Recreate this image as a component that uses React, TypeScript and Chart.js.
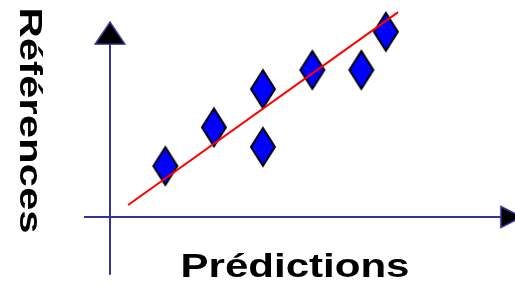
import React, { useEffect, useRef } from "react";
import { Chart, registerables } from "chart.js";

Chart.register(...registerables);

// Data (unit = one grid step; origin at the axes crossing)
const predictions = [1.13, 2.12, 3.12, 3.12, 4.13, 5.13, 5.63];
const references = [1.04, 1.83, 2.61, 1.43, 3.0, 3.0, 3.78];
const fitX = [0.37, 5.88];
const fitY = [0.245, 4.18];
const xAxisRange = [-0.53, 8.18];
const yAxisRange = [-1.18, 3.75];
const xLabel = "Prédictions";
const yLabel = "Références";

function makeDiamond(): HTMLCanvasElement {
  const c = document.createElement("canvas");
  c.width = 30;
  c.height = 42;
  const g = c.getContext("2d")!;
  g.beginPath();
  g.moveTo(15, 2);
  g.lineTo(27, 21);
  g.lineTo(15, 40);
  g.lineTo(3, 21);
  g.closePath();
  g.fillStyle = "#0000FF";
  g.fill();
  g.lineWidth = 2;
  g.lineJoin = "miter";
  g.strokeStyle = "#000000";
  g.stroke();
  return c;
}

function makeUpArrow(): HTMLCanvasElement {
  const c = document.createElement("canvas");
  c.width = 32;
  c.height = 24;
  const g = c.getContext("2d")!;
  g.beginPath();
  g.moveTo(16, 1);
  g.lineTo(31, 23);
  g.lineTo(1, 23);
  g.closePath();
  g.fillStyle = "#000000";
  g.fill();
  g.lineWidth = 1.5;
  g.strokeStyle = "#333399";
  g.stroke();
  return c;
}

function makeRightArrow(): HTMLCanvasElement {
  const c = document.createElement("canvas");
  c.width = 24;
  c.height = 24;
  const g = c.getContext("2d")!;
  g.beginPath();
  g.moveTo(2, 1.5);
  g.lineTo(23, 12);
  g.lineTo(2, 22.5);
  g.closePath();
  g.fillStyle = "#000000";
  g.fill();
  g.lineWidth = 1.5;
  g.strokeStyle = "#333399";
  g.stroke();
  return c;
}

const labelPlugin = {
  id: "axisLabels",
  afterDraw(chart: any) {
    const ctx = chart.ctx as CanvasRenderingContext2D;
    ctx.save();
    ctx.fillStyle = "#000000";
    ctx.textAlign = "center";
    ctx.textBaseline = "alphabetic";
    // bottom label
    ctx.font = 'bold 33px "Liberation Sans", Arial, sans-serif';
    let w = ctx.measureText(xLabel).width;
    ctx.save();
    ctx.translate(295, 277);
    ctx.scale(229 / w, 1);
    ctx.fillText(xLabel, 0, 0);
    ctx.restore();
    // left label, rotated clockwise
    ctx.font = 'bold 31px "Liberation Sans", Arial, sans-serif';
    w = ctx.measureText(yLabel).width;
    ctx.save();
    ctx.translate(20, 120.5);
    ctx.rotate(Math.PI / 2);
    ctx.scale(226 / w, 1);
    ctx.fillText(yLabel, 0, 0);
    ctx.restore();
    ctx.restore();
  },
};

export default function App() {
  const ref = useRef<HTMLCanvasElement | null>(null);
  useEffect(() => {
    document.body.style.margin = "0";
    if (!ref.current) return;
    const diamond = makeDiamond();
    const upArrow = makeUpArrow();
    const rightArrow = makeRightArrow();
    const axisColor = "#333399";
    const chart = new Chart(ref.current, {
      type: "scatter",
      data: {
        datasets: [
          {
            label: "fit",
            data: fitX.map((x, i) => ({ x, y: fitY[i] })),
            showLine: true,
            borderColor: "#FF0000",
            borderWidth: 2,
            pointRadius: 0,
            order: 0,
          },
          {
            label: "points",
            data: predictions.map((x, i) => ({ x, y: references[i] })),
            showLine: false,
            pointStyle: diamond,
            pointRadius: 5,
            order: 1,
          },
          {
            label: "yAxis",
            data: [
              { x: 0, y: yAxisRange[0] },
              { x: 0, y: yAxisRange[1] },
            ],
            showLine: true,
            borderColor: axisColor,
            borderWidth: 2,
            pointStyle: upArrow,
            pointRadius: [0, 5],
            order: 2,
          },
          {
            label: "xAxis",
            data: [
              { x: xAxisRange[0], y: 0 },
              { x: xAxisRange[1], y: 0 },
            ],
            showLine: true,
            borderColor: axisColor,
            borderWidth: 2,
            pointStyle: rightArrow,
            pointRadius: [0, 5],
            order: 3,
          },
        ],
      },
      options: {
        animation: false,
        responsive: false,
        devicePixelRatio: 1,
        layout: { padding: 0, autoPadding: false },
        events: [],
        plugins: {
          legend: { display: false },
          tooltip: { enabled: false },
        },
        scales: {
          x: {
            type: "linear",
            display: false,
            min: -110 / 49,
            max: 405 / 49,
          },
          y: {
            type: "linear",
            display: false,
            min: -68 / 49,
            max: 217 / 49,
          },
        },
      },
      plugins: [labelPlugin],
    });
    return () => chart.destroy();
  }, []);
  return (
    <div style={{ width: 515, height: 285 }}>
      <canvas ref={ref} width={515} height={285} style={{ display: "block" }} />
    </div>
  );
}
